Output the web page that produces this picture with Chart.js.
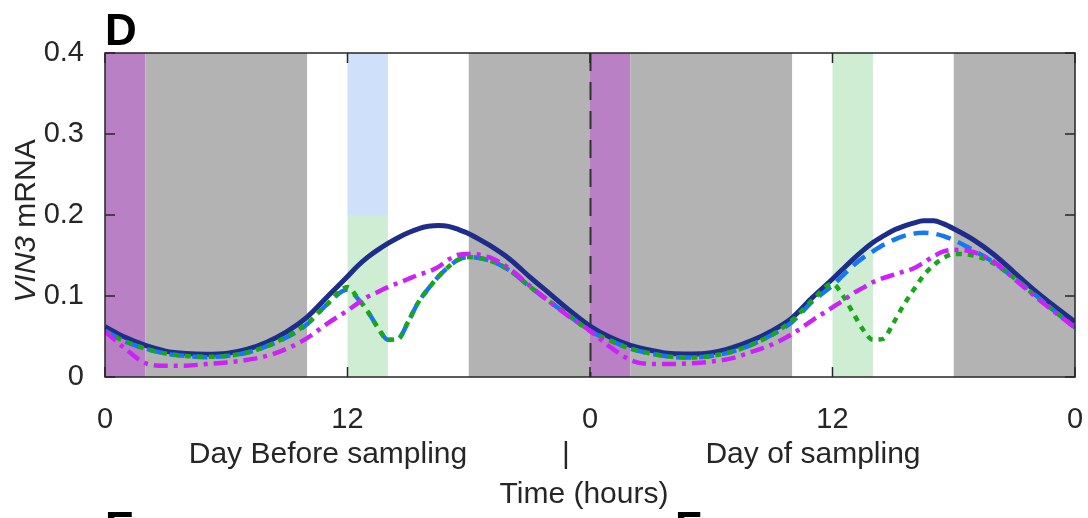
<!DOCTYPE html>
<html>
<head>
<meta charset="utf-8">
<script src="https://cdn.jsdelivr.net/npm/chart.js@4.4.1/dist/chart.umd.min.js"></script>
<style>
  html, body { margin: 0; padding: 0; background: #fff; overflow: hidden; }
  #wrap { width: 1088px; height: 518px; position: relative; }
  #chart { display: block; }
</style>
</head>
<body>
<div id="wrap"><canvas id="chart"></canvas></div>
<script>
// time in hours over two days (0-24 day before, 24-48 day of sampling)
const hours = [0, 1, 2, 3, 4, 5, 6, 7, 8, 9, 10, 11, 12,
  12.5, 13, 13.5, 14, 14.5, 15, 15.5, 16, 16.5, 17, 17.5, 18,
  19, 20, 21, 22, 23, 24, 25, 26, 27, 28, 29, 30, 31, 32, 33, 34, 35, 36,
  36.5, 37, 37.5, 38, 38.5, 39, 39.5, 40, 40.5, 41, 41.5, 42,
  43, 44, 45, 46, 47, 48];

// VIN3 mRNA, one array per simulation
const vin3Navy = [0.062, 0.049, 0.039, 0.032, 0.029, 0.028, 0.029, 0.034, 0.043, 0.056, 0.074, 0.099, 0.124,
  0.137, 0.148, 0.157, 0.165, 0.172, 0.178, 0.183, 0.186, 0.187, 0.186, 0.182, 0.177,
  0.163, 0.146, 0.124, 0.103, 0.082, 0.063, 0.049, 0.039, 0.033, 0.029, 0.0285, 0.030, 0.036, 0.045, 0.057, 0.073, 0.098, 0.121,
  0.133, 0.145, 0.156, 0.166, 0.174, 0.181, 0.186, 0.190, 0.193, 0.193, 0.189, 0.183,
  0.169, 0.151, 0.129, 0.107, 0.087, 0.068];

const vin3Blue = [0.057, 0.044, 0.035, 0.029, 0.026, 0.0245, 0.026, 0.030, 0.038, 0.049, 0.065, 0.090, 0.108,
  0.097, 0.081, 0.061, 0.046, 0.047, 0.068, 0.092, 0.109, 0.124, 0.136, 0.145, 0.148,
  0.144, 0.132, 0.112, 0.093, 0.075, 0.057, 0.045, 0.035, 0.029, 0.025, 0.024, 0.026, 0.031, 0.040, 0.052, 0.068, 0.093, 0.113,
  0.125, 0.137, 0.147, 0.155, 0.163, 0.169, 0.174, 0.177, 0.178, 0.177, 0.174, 0.169,
  0.156, 0.141, 0.122, 0.102, 0.081, 0.061];

const vin3Green = [0.056, 0.044, 0.035, 0.029, 0.026, 0.025, 0.026, 0.030, 0.038, 0.050, 0.066, 0.090, 0.111,
  0.098, 0.081, 0.061, 0.046, 0.047, 0.068, 0.092, 0.109, 0.124, 0.136, 0.145, 0.148,
  0.144, 0.132, 0.112, 0.093, 0.075, 0.057, 0.045, 0.035, 0.029, 0.025, 0.024, 0.026, 0.031, 0.040, 0.052, 0.070, 0.095, 0.115,
  0.101, 0.080, 0.059, 0.046, 0.047, 0.066, 0.088, 0.107, 0.125, 0.138, 0.147, 0.152,
  0.150, 0.140, 0.122, 0.101, 0.081, 0.061];

const vin3Magenta = [0.056, 0.035, 0.017, 0.014, 0.014, 0.016, 0.018, 0.021, 0.026, 0.035, 0.048, 0.066, 0.082,
  0.091, 0.099, 0.105, 0.111, 0.116, 0.121, 0.126, 0.130, 0.136, 0.145, 0.151, 0.152,
  0.148, 0.134, 0.113, 0.093, 0.074, 0.057, 0.037, 0.021, 0.016, 0.016, 0.017, 0.019, 0.023, 0.031, 0.040, 0.053, 0.070, 0.086,
  0.094, 0.103, 0.110, 0.117, 0.122, 0.126, 0.130, 0.134, 0.141, 0.149, 0.155, 0.157,
  0.154, 0.142, 0.121, 0.100, 0.080, 0.061];

// light regime shading
const shadeStart = [0, 2, 18, 24, 26, 42];
const shadeEnd = [2, 10, 24, 26, 34, 48];
const shadeKind = ['dawn', 'night', 'night', 'dawn', 'night', 'night'];

// treatment windows
const treatStart = [12, 12, 36];
const treatEnd = [14, 14, 38];
const treatLow = [0, 0.2, 0];
const treatHigh = [0.2, 0.4, 0.4];
const treatKind = ['green', 'blue', 'green'];

const xTicks = [0, 12, 24, 36, 48];
const yTicks = [0, 0.1, 0.2, 0.3, 0.4];

const fillColors = {
  dawn: '#b980c6',
  night: '#b3b3b3',
  green: '#cfedd2',
  blue: '#cfe0fb'
};

const FONT = '"Liberation Sans", Arial, Helvetica, sans-serif';
const INK = '#262626';

function series(vals) {
  return hours.map((h, i) => ({ x: h, y: vals[i] }));
}

const decor = {
  id: 'decor',
  beforeDatasetsDraw(chart) {
    const { ctx, chartArea: a, scales: { x, y } } = chart;
    ctx.save();
    shadeStart.forEach((s, i) => {
      const x0 = x.getPixelForValue(s), x1 = x.getPixelForValue(shadeEnd[i]);
      ctx.fillStyle = fillColors[shadeKind[i]];
      ctx.fillRect(x0, a.top, x1 - x0, a.bottom - a.top);
    });
    treatStart.forEach((s, i) => {
      const x0 = x.getPixelForValue(s), x1 = x.getPixelForValue(treatEnd[i]);
      const y0 = y.getPixelForValue(treatHigh[i]), y1 = y.getPixelForValue(treatLow[i]);
      ctx.fillStyle = fillColors[treatKind[i]];
      ctx.fillRect(x0, y0, x1 - x0, y1 - y0);
    });
    // day boundary
    const xm = Math.round(x.getPixelForValue(24)) + 0.5;
    ctx.strokeStyle = '#333';
    ctx.lineWidth = 2;
    ctx.setLineDash([18, 11]);
    ctx.beginPath();
    ctx.moveTo(xm, a.top);
    ctx.lineTo(xm, a.bottom);
    ctx.stroke();
    ctx.restore();
  },
  afterDraw(chart) {
    const { ctx, chartArea: a, scales: { x, y } } = chart;
    ctx.save();
    ctx.strokeStyle = INK;
    ctx.lineWidth = 1.5;
    ctx.strokeRect(a.left, a.top, a.right - a.left, a.bottom - a.top);
    ctx.beginPath();
    xTicks.forEach(t => {
      const px = x.getPixelForValue(t);
      ctx.moveTo(px, a.bottom); ctx.lineTo(px, a.bottom - 10);
      ctx.moveTo(px, a.top); ctx.lineTo(px, a.top + 10);
    });
    yTicks.forEach(v => {
      const py = y.getPixelForValue(v);
      ctx.moveTo(a.left, py); ctx.lineTo(a.left + 10, py);
      ctx.moveTo(a.right, py); ctx.lineTo(a.right - 10, py);
    });
    ctx.stroke();

    ctx.fillStyle = INK;
    ctx.textBaseline = 'alphabetic';
    ctx.textAlign = 'center';
    ctx.font = '30px ' + FONT;
    ctx.fillText('Day Before sampling', 328, 463);
    ctx.fillText('|', 566, 463);
    ctx.fillText('Day of sampling', 813, 463);
    ctx.fillText('Time (hours)', 584, 503);

    // y label with italic gene name
    ctx.translate(35, 221);
    ctx.rotate(-Math.PI / 2);
    ctx.textAlign = 'left';
    ctx.font = 'italic 30px ' + FONT;
    const w1 = ctx.measureText('VIN3').width;
    ctx.font = '30px ' + FONT;
    const w2 = ctx.measureText(' mRNA').width;
    const start = -(w1 + w2) / 2;
    ctx.font = 'italic 30px ' + FONT;
    ctx.fillText('VIN3', start, 0);
    ctx.font = '30px ' + FONT;
    ctx.fillText(' mRNA', start + w1, 0);
    ctx.restore();

    // panel letters
    ctx.save();
    ctx.fillStyle = '#000';
    ctx.font = 'bold 44px ' + FONT;
    ctx.textAlign = 'left';
    ctx.fillText('D', 105, 45);
    ctx.fillText('E', 105, 543);
    ctx.fillText('F', 675, 543);
    ctx.restore();
  }
};

const lineBase = { pointRadius: 0, fill: false, cubicInterpolationMode: 'monotone', borderCapStyle: 'butt' };

new Chart(document.getElementById('chart'), {
  type: 'line',
  data: {
    datasets: [
      { ...lineBase, label: 'magenta', data: series(vin3Magenta), borderColor: '#cc22f7', borderWidth: 4.5, borderDash: [14, 6, 4, 6] },
      { ...lineBase, label: 'green', data: series(vin3Green), borderColor: '#17a817', borderWidth: 4.5, borderDash: [6, 6] },
      { ...lineBase, label: 'blue', data: series(vin3Blue), borderColor: '#1478f2', borderWidth: 4.5, borderDash: [15, 8] },
      { ...lineBase, label: 'navy', data: series(vin3Navy), borderColor: '#1f2d8a', borderWidth: 5 }
    ]
  },
  options: {
    responsive: true,
    maintainAspectRatio: false,
    animation: false,
    layout: { padding: { left: 0, right: 13, top: 53, bottom: 0 } },
    plugins: { legend: { display: false }, tooltip: { enabled: false } },
    scales: {
      x: {
        type: 'linear',
        min: 0,
        max: 48,
        grid: { display: false },
        border: { display: false },
        afterBuildTicks: s => { s.ticks = xTicks.map(v => ({ value: v })); },
        afterFit: s => { s.height = 141; s.paddingLeft = 0; s.paddingRight = 0; },
        ticks: {
          color: INK,
          padding: 18,
          maxRotation: 0,
          font: { family: FONT, size: 29 },
          callback: v => String(v % 24)
        }
      },
      y: {
        min: 0,
        max: 0.4,
        grid: { display: false },
        border: { display: false },
        afterBuildTicks: s => { s.ticks = yTicks.map(v => ({ value: v })); },
        afterFit: s => { s.width = 105; s.paddingTop = 0; s.paddingBottom = 0; },
        ticks: {
          color: INK,
          padding: 13,
          font: { family: FONT, size: 29 },
          callback: v => v === 0 ? '0' : v.toFixed(1)
        }
      }
    }
  },
  plugins: [decor]
});
</script>
</body>
</html>
